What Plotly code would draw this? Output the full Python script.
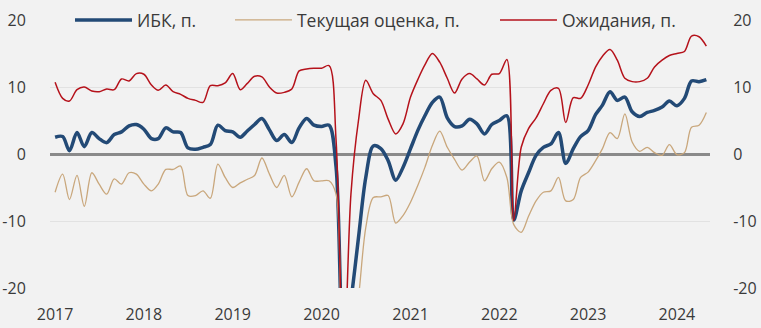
import pandas as pd
import plotly.graph_objects as go

# Monthly index, Jan 2017 - May 2024
months = pd.date_range("2017-01-01", periods=89, freq="MS")

ibk = [
    2.5, 2.6, 0.5, 3.2, 1.1, 3.2, 2.3, 1.7, 2.9, 3.3, 4.2, 4.4,
    3.7, 2.3, 2.3, 3.9, 3.3, 3.2, 0.9, 0.7, 1.0, 1.4, 4.3, 3.5,
    3.3, 2.5, 3.4, 4.4, 5.3, 3.6, 2.0, 2.9, 1.7, 3.9, 5.3, 4.3,
    4.1, 4.3, -2.0, -30.0, -22.0, -12.5, -3.5, 1.2, 0.8, -1.0, -3.9, -2.0,
    0.8, 3.6, 5.7, 7.7, 8.5, 5.4, 4.1, 4.2, 5.2, 4.5, 3.0, 4.4,
    5.0, 5.7, -9.9, -5.5, -2.8, -0.2, 1.0, 1.5, 3.2, -1.4, 0.8, 2.6,
    3.5, 5.9, 7.3, 9.3, 8.0, 8.5, 6.3, 5.6, 6.2, 6.5, 7.0, 7.9,
    7.2, 8.3, 10.9, 10.8, 11.1,
]

current = [
    -5.7, -3.0, -6.8, -3.2, -7.8, -2.8, -4.5, -6.0, -3.7, -4.5, -2.8, -3.0,
    -4.5, -5.5, -4.5, -2.3, -2.3, -1.8, -6.2, -6.2, -5.5, -6.6, -1.5, -3.5,
    -5.0, -4.3, -3.8, -3.2, -0.6, -3.0, -5.0, -3.2, -6.4, -4.2, -2.2, -4.0,
    -4.0, -4.0, -6.0, -33.0, -30.0, -21.5, -11.0, -6.5, -6.4, -6.2, -10.3, -9.2,
    -7.2, -4.6, -2.0, 1.3, 3.4, 1.0, -0.8, -2.4, -1.2, -0.3, -4.0, -2.2,
    -1.2, -3.5, -10.5, -11.7, -9.3, -7.0, -5.7, -5.5, -3.5, -7.0, -6.8, -3.5,
    -2.7, -1.0, 0.8, 3.2, 2.3, 6.0, 1.8, 0.4, 1.0, 0.2, -0.2, 1.4,
    -0.1, 0.2, 4.0, 4.3, 6.2,
]

expect = [
    10.7, 8.3, 7.9, 9.6, 10.0, 9.4, 9.3, 9.7, 9.6, 11.2, 10.9, 12.0,
    11.9, 10.3, 9.5, 10.3, 9.3, 8.9, 8.3, 8.0, 7.7, 10.2, 10.2, 10.6,
    12.0, 9.6, 10.5, 11.6, 11.5, 10.0, 9.1, 9.2, 9.7, 12.4, 12.7, 12.8,
    12.8, 13.2, 2.0, -32.0, -6.0, 5.0, 11.0, 9.0, 8.0, 5.2, 3.0, 4.5,
    8.5, 11.2, 13.3, 15.0, 13.7, 11.3, 9.1, 11.2, 12.0, 11.2, 10.3, 11.9,
    12.0, 14.1, -9.9, 1.0, 3.8, 5.4, 7.5, 9.5, 9.8, 4.7, 8.4, 8.3,
    10.3, 13.0, 14.6, 15.6, 14.0, 11.3, 10.8, 10.8, 11.3, 13.0, 14.0, 14.7,
    15.0, 15.3, 17.6, 17.5, 16.1,
]

y_ticks = [-20, -10, 0, 10, 20]
y_labels = ["-20", "-10", "0", "10", "20"]

BG = "#f2f2f2"
TEXT = "#3a3a3a"
FONT = "Open Sans"

fig = go.Figure()
fig.add_trace(go.Scatter(
    x=months, y=ibk, name="ИБК, п.", mode="lines", legend="legend",
    line=dict(color="#234a76", width=3.5, shape="spline", smoothing=0.9),
))
fig.add_trace(go.Scatter(
    x=months, y=current, name="Текущая оценка, п.", mode="lines", legend="legend2",
    line=dict(color="#c9a77c", width=1.3, shape="spline", smoothing=0.9),
))
fig.add_trace(go.Scatter(
    x=months, y=expect, name="Ожидания, п.", mode="lines", legend="legend3",
    line=dict(color="#b5121b", width=1.5, shape="spline", smoothing=0.9),
))
# mirror axis on the right
fig.add_trace(go.Scatter(
    x=months[:1], y=expect[:1], yaxis="y2", mode="lines",
    showlegend=False, hoverinfo="skip", opacity=0,
))

legend_style = dict(
    orientation="h", y=1.0, xanchor="left", yanchor="middle",
    bgcolor="rgba(0,0,0,0)", font=dict(size=17.5, color=TEXT),
    itemwidth=57,
)

tick_font = dict(size=16, color=TEXT)

fig.update_layout(
    width=761, height=328,
    margin=dict(l=50, r=51, t=20, b=40, autoexpand=False),
    paper_bgcolor=BG, plot_bgcolor=BG,
    font=dict(family=FONT, size=16, color=TEXT),
    showlegend=True,
    legend=dict(x=0.0303, **legend_style),
    legend2=dict(x=0.2727, **legend_style),
    legend3=dict(x=0.6742, **legend_style),
    xaxis=dict(
        type="date",
        range=["2016-12-11", "2024-05-16"],
        tick0="2017-01-01", dtick="M12", tickformat="%Y",
        showgrid=False, zeroline=False, showline=False,
        ticks="outside", ticklen=12, tickcolor=BG,
        tickfont=tick_font,
    ),
    yaxis=dict(
        range=[-20, 20], tickvals=y_ticks, ticktext=y_labels,
        showgrid=True, gridcolor="#e2e2e2", gridwidth=1,
        zeroline=True, zerolinecolor="#8a8a8a", zerolinewidth=3,
        showline=False, ticks="outside", ticklen=20, tickcolor=BG,
        tickfont=tick_font,
    ),
    yaxis2=dict(
        range=[-20, 20], tickvals=y_ticks, ticktext=y_labels,
        overlaying="y", side="right",
        showgrid=False, zeroline=False, showline=False,
        ticks="outside", ticklen=19, tickcolor=BG,
        tickfont=tick_font,
    ),
)

fig.write_html("out.html")
